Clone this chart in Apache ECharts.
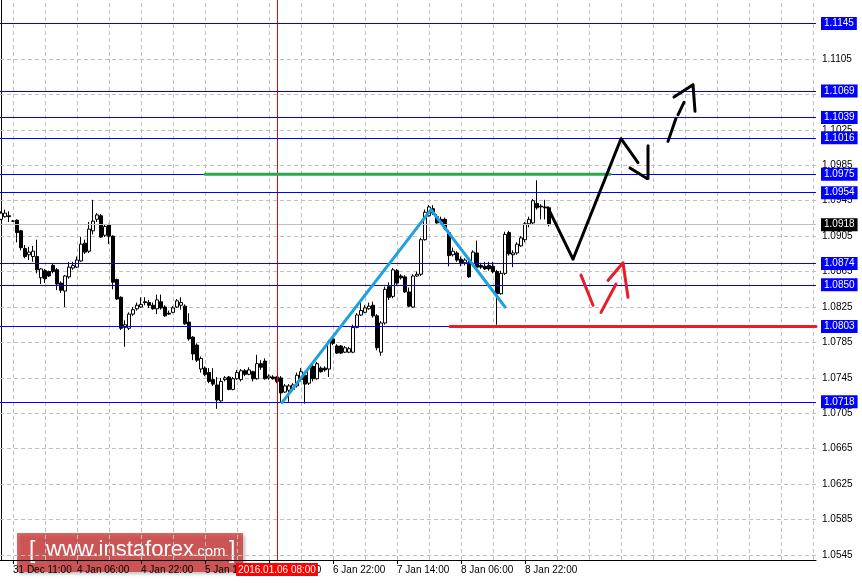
<!DOCTYPE html>
<html><head><meta charset="utf-8">
<script src="https://cdn.jsdelivr.net/npm/echarts@6/dist/echarts.min.js"></script>
<style>html,body{margin:0;padding:0;background:#fff}#c{width:862px;height:583px}</style>
</head><body><div id="c"></div>
<script>
// ---- data (EURUSD H1, bar index = hour bar) ----
const open = [1.0924,1.0927,1.0928,1.0922,1.0923,1.0911,1.0891,1.0884,1.0882,1.0882,
1.0858,1.0866,1.0865,1.0872,1.0867,1.0852,1.0843,1.0859,1.0869,1.0870,
1.0877,1.0897,1.0888,1.0911,1.0924,1.0928,1.0906,1.0918,1.0905,1.0856,
1.0836,1.0802,1.0801,1.0817,1.0823,1.0825,1.0831,1.0830,1.0827,1.0823,
1.0831,1.0825,1.0818,1.0819,1.0825,1.0827,1.0826,1.0808,1.0791,1.0782,
1.0755,1.0756,1.0751,1.0743,1.0737,1.0719,1.0743,1.0746,1.0732,1.0744,
1.0743,1.0753,1.0749,1.0752,1.0744,1.0761,1.0764,1.0745,1.0746,1.0746,
1.0745,1.0729,1.0731,1.0732,1.0736,1.0743,1.0748,1.0739,1.0758,1.0744,
1.0756,1.0756,1.0755,1.0789,1.0781,1.0781,1.0774,1.0774,1.0774,1.0802,
1.0816,1.0819,1.0823,1.0827,1.0815,1.0774,1.0807,1.0848,1.0837,1.0866,
1.0860,1.0859,1.0842,1.0825,1.0860,1.0862,1.0901,1.0928,1.0936,1.0927,
1.0924,1.0924,1.0909,1.0884,1.0886,1.0879,1.0875,1.0875,1.0874,1.0886,
1.0872,1.0871,1.0872,1.0871,1.0865,1.0840,1.0863,1.0909,1.0884,1.0886,
1.0894,1.0901,1.0919,1.0920,1.0942,1.0939,1.0938,1.0937];
const close = [1.0931,1.0931,1.0927,1.0922,1.0909,1.0892,1.0882,1.0887,1.0888,1.0867,
1.0868,1.0857,1.0860,1.0865,1.0851,1.0844,1.0860,1.0870,1.0872,1.0878,
1.0896,1.0887,1.0913,1.0922,1.0929,1.0904,1.0916,1.0905,1.0853,1.0834,
1.0801,1.0805,1.0817,1.0822,1.0827,1.0828,1.0830,1.0827,1.0823,1.0833,
1.0824,1.0815,1.0817,1.0824,1.0832,1.0830,1.0806,1.0789,1.0772,1.0765,
1.0767,1.0749,1.0741,1.0738,1.0720,1.0741,1.0745,1.0732,1.0744,1.0751,
1.0753,1.0749,1.0754,1.0744,1.0761,1.0757,1.0744,1.0747,1.0744,1.0741,
1.0728,1.0736,1.0736,1.0737,1.0748,1.0752,1.0738,1.0756,1.0744,1.0761,
1.0752,1.0754,1.0786,1.0784,1.0773,1.0773,1.0779,1.0778,1.0802,1.0816,
1.0821,1.0824,1.0826,1.0815,1.0779,1.0807,1.0845,1.0836,1.0867,1.0852,
1.0858,1.0842,1.0826,1.0860,1.0862,1.0901,1.0932,1.0938,1.0931,1.0920,
1.0921,1.0914,1.0883,1.0888,1.0878,1.0874,1.0878,1.0859,1.0887,1.0870,
1.0870,1.0868,1.0868,1.0865,1.0840,1.0863,1.0907,1.0885,1.0886,1.0896,
1.0903,1.0919,1.0924,1.0945,1.0937,1.0938,1.0937,1.0918];
const low = [1.0923,1.0926,1.0921,1.0921,1.0898,1.0889,1.0880,1.0878,1.0876,1.0863,
1.0851,1.0852,1.0859,1.0863,1.0844,1.0841,1.0825,1.0857,1.0867,1.0869,
1.0876,1.0885,1.0886,1.0907,1.0921,1.0903,1.0904,1.0896,1.0845,1.0833,
1.0799,1.0780,1.0799,1.0815,1.0821,1.0824,1.0827,1.0824,1.0822,1.0817,
1.0822,1.0814,1.0816,1.0818,1.0824,1.0822,1.0805,1.0787,1.0765,1.0763,
1.0751,1.0747,1.0739,1.0736,1.0710,1.0718,1.0741,1.0731,1.0731,1.0743,
1.0741,1.0747,1.0748,1.0741,1.0743,1.0754,1.0743,1.0743,1.0743,1.0739,
1.0718,1.0728,1.0718,1.0730,1.0734,1.0741,1.0716,1.0737,1.0741,1.0743,
1.0751,1.0752,1.0746,1.0782,1.0772,1.0772,1.0773,1.0773,1.0773,1.0801,
1.0815,1.0818,1.0822,1.0813,1.0776,1.0770,1.0805,1.0833,1.0835,1.0850,
1.0856,1.0841,1.0825,1.0824,1.0859,1.0860,1.0900,1.0927,1.0929,1.0919,
1.0919,1.0912,1.0871,1.0882,1.0876,1.0871,1.0872,1.0858,1.0871,1.0868,
1.0868,1.0867,1.0866,1.0863,1.0805,1.0839,1.0861,1.0883,1.0870,1.0884,
1.0893,1.0898,1.0915,1.0918,1.0935,1.0924,1.0924,1.0916];
const high = [1.0933,1.0935,1.0933,1.0923,1.0924,1.0912,1.0895,1.0893,1.0894,1.0901,
1.0869,1.0868,1.0866,1.0874,1.0869,1.0854,1.0861,1.0876,1.0876,1.0882,
1.0904,1.0901,1.0921,1.0946,1.0931,1.0930,1.0918,1.0919,1.0906,1.0857,
1.0837,1.0810,1.0819,1.0825,1.0830,1.0836,1.0836,1.0833,1.0830,1.0839,
1.0839,1.0827,1.0821,1.0826,1.0834,1.0836,1.0828,1.0818,1.0792,1.0784,
1.0769,1.0758,1.0756,1.0756,1.0746,1.0745,1.0747,1.0747,1.0746,1.0754,
1.0755,1.0755,1.0757,1.0753,1.0771,1.0765,1.0767,1.0749,1.0748,1.0747,
1.0747,1.0738,1.0738,1.0739,1.0751,1.0756,1.0752,1.0758,1.0761,1.0763,
1.0758,1.0758,1.0788,1.0791,1.0783,1.0782,1.0781,1.0780,1.0805,1.0818,
1.0830,1.0827,1.0830,1.0831,1.0817,1.0809,1.0848,1.0853,1.0869,1.0868,
1.0862,1.0861,1.0847,1.0862,1.0865,1.0903,1.0935,1.0940,1.0940,1.0930,
1.0927,1.0926,1.0912,1.0892,1.0888,1.0882,1.0880,1.0878,1.0889,1.0900,
1.0875,1.0876,1.0876,1.0876,1.0867,1.0866,1.0910,1.0911,1.0889,1.0898,
1.0905,1.0921,1.0927,1.0947,1.0968,1.0941,1.0946,1.0938];

const priceTicks = [1.0545,1.0585,1.0625,1.0665,1.0705,1.0745,1.0785,1.0825,1.0865,1.0905,1.0945,1.0985,1.1025,1.1065,1.1105,1.1145];
const timeTickIndex = [3,19,35,51,67,83,99,115,131];
const timeTickLabels = ['31 Dec 11:00','4 Jan 06:00','4 Jan 22:00','5 Jan 14:00','6 Jan 06:00','6 Jan 22:00','7 Jan 14:00','8 Jan 06:00','8 Jan 22:00'];
const gridBarIndex = [3,11,19,27,35,43,51,59,67,75,83,91,99,107,115,123,131,139,147,155,163,171,179,187,195,203];
const levels = [1.1145,1.1069,1.1039,1.1016,1.0975,1.0954,1.0874,1.0850,1.0803,1.0718];
const bidPrice = 1.0918;
const cursorBar = 69;
const cursorLabel = '2016.01.06 08:00';

// hand-drawn analysis strokes: [bar index, price]
const blueStroke = [[70.25,1.0717],[107.5,1.0935],[126,1.0825]];
const greenStroke = [[51,1.0975],[152.25,1.0975]];
const redLevelStroke = [[112.25,1.0803],[203.75,1.0803]];
const blackStrokes = [
  [[136.75,1.0937],[143,1.0879],[155,1.1015],[159.25,1.0988]],
  [[157.25,1.0982],[161.5,1.0970]],
  [[161.75,1.1007],[161.75,1.0970]],
  [[166.75,1.1012],[168.75,1.1038]],
  [[169.25,1.1042],[170.75,1.1056]],
  [[168.25,1.1062],[173,1.1076],[173.5,1.1046]]
];
const redStrokes = [
  [[145,1.0861],[148,1.0827]],
  [[150,1.0819],[153.75,1.0851]],
  [[151.75,1.0855],[155.5,1.0875],[156.75,1.0836]]
];

const FONT = "'Liberation Sans',Arial,sans-serif";
const FS = 10;
const candles = open.map((o, i) => [i, o, close[i], low[i], high[i]]);
const evenTicks = timeTickIndex.filter((v, k) => k % 2 === 0);
const oddTicks = timeTickIndex.filter((v, k) => k % 2 === 1);
const timeFmt = v => { const k = timeTickIndex.indexOf(v); return k >= 0 ? timeTickLabels[k] : ''; };

function strokeSeries(pts, color, width, z) {
  return { type: 'line', data: pts, showSymbol: false, symbol: 'none', z: z, silent: true, color: color,
    lineStyle: { color: color, width: width, cap: 'round', join: 'round' }, animation: false };
}
// helper series that only carry mark lines (one invisible anchor point keeps dimensions numeric)
const anchor = [[cursorBar, bidPrice]];
function markSeries(color, z, markLine) {
  markLine.silent = true; markLine.symbol = 'none'; markLine.animation = false; markLine.precision = 6; markLine.z = z;
  return { type: 'line', data: anchor, z: z, color: color, silent: true, showSymbol: false, symbol: 'none',
    lineStyle: { opacity: 0 }, markLine: markLine };
}
const boxLabel = (bg) => ({ show: true, position: 'end', distance: 5, padding: [2, 3, 1, 3], fontSize: FS, fontFamily: FONT,
  color: '#fff', backgroundColor: bg, formatter: p => Number(p.value).toFixed(4) });

const series = [
  markSeries('#c0c0c0', 1, { label: { show: false }, lineStyle: { color: '#c0c0c0', type: [4, 3], width: 1 },
    data: priceTicks.map(v => ({ yAxis: v })).concat(gridBarIndex.map(v => ({ xAxis: v }))) }),
  { type: 'candlestick', data: candles, encode: { x: 0, y: [1, 2, 3, 4] }, barWidth: 3, z: 2, silent: true,
    itemStyle: { color: '#ffffff', color0: '#000000', borderColor: '#000000', borderColor0: '#000000', borderWidth: 1 } },
  markSeries('#c0c0c0', 3, { label: boxLabel('#000000'), lineStyle: { color: '#c0c0c0', type: 'solid', width: 1 },
    data: [{ yAxis: bidPrice }] }),
  markSeries('#ff0000', 3, { lineStyle: { color: '#ff0000', type: 'solid', width: 1 },
    label: { show: true, position: 'start', distance: 3, padding: [2, 2, 1, 2], fontSize: FS, fontFamily: FONT,
      color: '#fff', backgroundColor: '#ff0000', formatter: cursorLabel },
    data: [{ xAxis: cursorBar }] }),
  markSeries('#0000ff', 4, { label: boxLabel('#0000ff'), lineStyle: { color: '#0000ff', type: 'solid', width: 1 },
    data: levels.map(v => ({ yAxis: v })) }),
  strokeSeries(greenStroke, '#29a84f', 3, 10),
  strokeSeries(redLevelStroke, '#e61e28', 3, 10),
  strokeSeries(blueStroke, '#1ea0e1', 3, 11)
];
blackStrokes.forEach(s => series.push(strokeSeries(s, '#000000', 3, 12)));
redStrokes.forEach(s => series.push(strokeSeries(s, '#e61e28', 3, 12)));

const xLabelStyle = { align: 'left', margin: 5, color: '#000', fontSize: FS, fontFamily: FONT,
  showMinLabel: true, showMaxLabel: true, hideOverlap: false, formatter: timeFmt };

const chart = echarts.init(document.getElementById('c'), null, { renderer: 'canvas' });
chart.setOption({
  animation: false,
  backgroundColor: '#ffffff',
  grid: { left: 0, right: 46, top: 0, bottom: 23, containLabel: false },
  xAxis: [
    { type: 'value', min: -0.25, max: 203.75,
      axisLine: { show: true, onZero: false, lineStyle: { color: '#000', width: 1 } },
      axisTick: { show: true, customValues: timeTickIndex, length: 4, lineStyle: { color: '#000' } },
      axisLabel: Object.assign({ customValues: evenTicks }, xLabelStyle),
      splitLine: { show: false } },
    { type: 'value', min: -0.25, max: 203.75, position: 'bottom', offset: 0,
      axisLine: { show: false, onZero: false }, axisTick: { show: false },
      axisLabel: Object.assign({ customValues: oddTicks }, xLabelStyle),
      splitLine: { show: false } }
  ],
  yAxis: { type: 'value', position: 'right', min: 1.05394, max: 1.11716,
    axisLine: { show: true, lineStyle: { color: '#000', width: 1 } },
    axisTick: { show: true, customValues: priceTicks, length: 3, lineStyle: { color: '#000' } },
    axisLabel: { customValues: priceTicks, showMinLabel: true, showMaxLabel: true, formatter: v => v.toFixed(4), margin: 6, color: '#000', fontSize: FS, fontFamily: FONT },
    splitLine: { show: false } },
  series: series,
  graphic: [{
    type: 'group', left: 17, top: 533, z: 100, silent: true,
    children: [
      { type: 'rect', shape: { x: 0, y: 0, width: 226, height: 39 },
        style: { fill: 'rgba(208,45,45,0.72)', shadowBlur: 3, shadowOffsetX: 2, shadowOffsetY: 2, shadowColor: 'rgba(0,0,0,0.35)' } },
      { type: 'text', style: { x: 12, y: 19, text: '[', fill: '#fff', fontSize: 23, fontFamily: FONT, verticalAlign: 'middle' } },
      { type: 'text', style: { x: 29, y: 17, text: 'www.instaforex', fill: '#fff', fontSize: 22, fontFamily: FONT, verticalAlign: 'middle' } },
      { type: 'text', style: { x: 176, y: 19, text: '.com', fill: '#fff', fontSize: 15, fontFamily: FONT, verticalAlign: 'middle' } },
      { type: 'text', style: { x: 212, y: 19, text: ']', fill: '#fff', fontSize: 23, fontFamily: FONT, verticalAlign: 'middle' } }
    ]
  }]
});
</script></body></html>
